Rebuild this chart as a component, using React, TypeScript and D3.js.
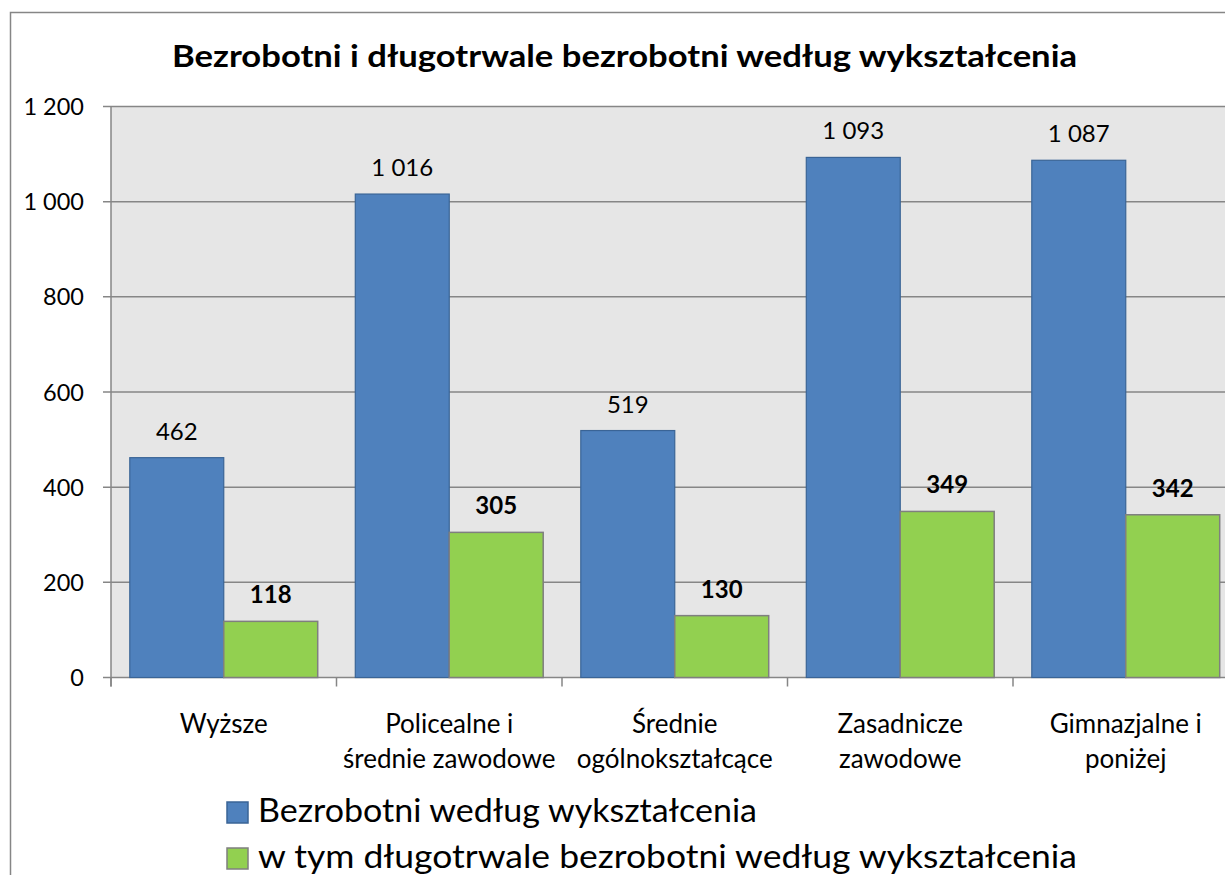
import React from "react";
import * as d3 from "d3";

const categories: string[][] = [
  ["Wyższe"],
  ["Policealne i", "średnie zawodowe"],
  ["Średnie", "ogólnokształcące"],
  ["Zasadnicze", "zawodowe"],
  ["Gimnazjalne i", "poniżej"],
];
const seriesNames = [
  "Bezrobotni według wykształcenia",
  "w tym długotrwale bezrobotni według wykształcenia",
];
const bezrobotni = [462, 1016, 519, 1093, 1087];
const dlugotrwale = [118, 305, 130, 349, 342];
const yTicks = [0, 200, 400, 600, 800, 1000, 1200];
const title = "Bezrobotni i długotrwale bezrobotni według wykształcenia";

const FONT = "Lato, 'Open Sans', sans-serif";
const BLUE = "#4F81BD";
const BLUE_STROKE = "#3A6496";
const GREEN = "#92D050";
const GREY = "#868686";

const fmt = d3
  .formatLocale({ decimal: ",", thousands: " ", grouping: [3], currency: ["", ""] })
  .format(",d");

export default function App() {
  const W = 1225;
  const H = 875;
  const left = 111;
  const top = 106.5;
  const bottom = 677.5;
  const catW = 225.5;
  const right = left + catW * categories.length;

  const x = d3
    .scaleBand<number>()
    .domain(d3.range(categories.length))
    .range([left, right])
    .padding(0);
  const xs = d3
    .scaleBand<number>()
    .domain([0, 1])
    .range([0, x.bandwidth()])
    .paddingInner(0)
    .paddingOuter(0.2);
  const y = d3.scaleLinear().domain([0, 1200]).range([bottom, top]);

  const series = [
    { values: bezrobotni, fill: BLUE, stroke: BLUE_STROKE, bold: false, sw: 1.2 },
    { values: dlugotrwale, fill: GREEN, stroke: "#7F7F7F", bold: true, sw: 1.5 },
  ];

  return (
    <svg
      width={W}
      height={H}
      style={{ position: "fixed", left: 0, top: 0, background: "#fff" }}
      fontFamily={FONT}
    >
      <rect x={0} y={0} width={W} height={H} fill="#fff" />
      <rect x={10.5} y={12.5} width={W + 20} height={H + 20} fill="none" stroke={GREY} strokeWidth={1.5} />
      <text
        x={624.5}
        y={67}
        textAnchor="middle"
        fontSize={31}
        fontWeight="bold"
        fill="#000"
        textLength={905}
        lengthAdjust="spacingAndGlyphs"
      >
        {title}
      </text>
      <rect x={left} y={top} width={right - left} height={bottom - top} fill="#E6E6E6" />
      {yTicks.map((t) => (
        <g key={t}>
          <line x1={103} x2={right} y1={y(t)} y2={y(t)} stroke={GREY} strokeWidth={1.5} />
          <text x={84} y={y(t) + 8.5} textAnchor="end" fontSize={23.5} fill="#000">
            {fmt(t)}
          </text>
        </g>
      ))}
      <line x1={left} x2={left} y1={top} y2={bottom + 9} stroke={GREY} strokeWidth={1.5} />
      {d3.range(categories.length + 1).map((i) => (
        <line
          key={i}
          x1={left + i * catW}
          x2={left + i * catW}
          y1={bottom}
          y2={bottom + 9}
          stroke={GREY}
          strokeWidth={1.5}
        />
      ))}
      {series.map((s, si) =>
        s.values.map((v, i) => {
          const bx = (x(i) as number) + (xs(si) as number);
          const bw = xs.bandwidth();
          return (
            <g key={`${si}-${i}`}>
              <rect
                x={bx}
                y={y(v)}
                width={bw}
                height={y(0) - y(v)}
                fill={s.fill}
                stroke={s.stroke}
                strokeWidth={s.sw}
              />
              <text
                x={bx + bw / 2}
                y={y(v) - 18}
                textAnchor="middle"
                fontSize={s.bold ? 24 : 24}
                fontWeight={s.bold ? "bold" : "normal"}
                fill="#000"
              >
                {fmt(v)}
              </text>
            </g>
          );
        })
      )}
      {categories.map((lines, i) => (
        <text
          key={i}
          x={(x(i) as number) + x.bandwidth() / 2}
          y={733}
          textAnchor="middle"
          fontSize={26}
          fill="#000"
        >
          {lines.map((l, li) => (
            <tspan key={li} x={(x(i) as number) + x.bandwidth() / 2} dy={li === 0 ? 0 : 35}>
              {l}
            </tspan>
          ))}
        </text>
      ))}
      {seriesNames.map((name, si) => {
        const sy = 802 + si * 46;
        return (
          <g key={name}>
            <rect
              x={227}
              y={sy}
              width={21}
              height={21}
              fill={series[si].fill}
              stroke={series[si].stroke}
              strokeWidth={1.5}
            />
            <text
              x={258}
              y={sy + 20}
              fontSize={33}
              fill="#000"
              textLength={si === 0 ? 499 : 819}
              lengthAdjust="spacingAndGlyphs"
            >
              {name}
            </text>
          </g>
        );
      })}
    </svg>
  );
}
